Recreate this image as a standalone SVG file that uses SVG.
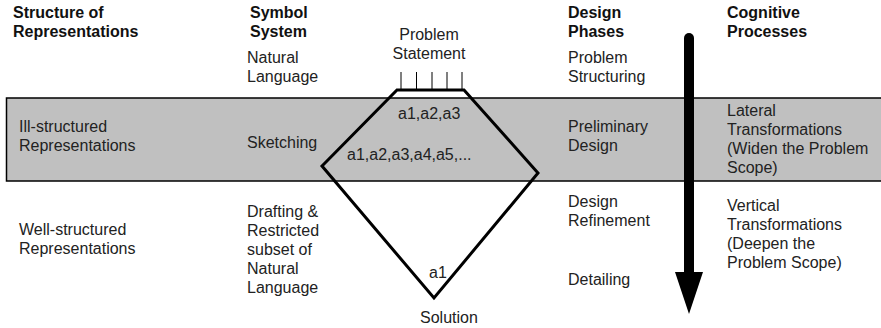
<svg xmlns="http://www.w3.org/2000/svg" width="881" height="328" viewBox="0 0 881 328">
  <style>
    text { font-family: "Liberation Sans", Arial, sans-serif; font-size: 16px; fill: #222; }
    .hd { font-weight: bold; fill: #111; }
    .mid { text-anchor: middle; }
    .edge { stroke: #000; fill: none; }
  </style>
  <rect width="881" height="328" fill="#fff"/>

  <!-- shaded band for the ill-structured row -->
  <g id="band">
    <rect x="6" y="98" width="880" height="83" fill="#c0c0c0"/>
    <path class="edge" stroke-width="1.5" d="M886,98 H6.5 V181 H886"/>
  </g>

  <!-- column headers -->
  <g id="headers">
    <text class="hd" x="13" y="18">Structure of</text>
    <text class="hd" x="13" y="37">Representations</text>
    <text class="hd" x="250" y="18">Symbol</text>
    <text class="hd" x="250" y="37">System</text>
    <text class="hd" x="568" y="18">Design</text>
    <text class="hd" x="568" y="37">Phases</text>
    <text class="hd" x="727" y="18">Cognitive</text>
    <text class="hd" x="727" y="37">Processes</text>
  </g>

  <!-- structure of representations column -->
  <g id="structure">
    <text x="19" y="132">Ill-structured</text>
    <text x="19" y="151">Representations</text>
    <text x="19" y="235">Well-structured</text>
    <text x="19" y="254">Representations</text>
  </g>

  <!-- symbol system column -->
  <g id="symbols">
    <text x="247" y="63">Natural</text>
    <text x="247" y="82">Language</text>
    <text x="247" y="148">Sketching</text>
    <text x="247" y="217">Drafting &amp;</text>
    <text x="247" y="236">Restricted</text>
    <text x="247" y="255">subset of</text>
    <text x="247" y="274">Natural</text>
    <text x="247" y="293">Language</text>
  </g>

  <!-- problem-to-solution funnel -->
  <g id="funnel">
    <text class="mid" x="429" y="40">Problem</text>
    <text class="mid" x="429" y="59">Statement</text>
    <g stroke="#000" stroke-width="1">
      <line x1="401" y1="72" x2="401" y2="90"/>
      <line x1="416.5" y1="72" x2="416.5" y2="90"/>
      <line x1="432" y1="72" x2="432" y2="90"/>
      <line x1="447" y1="72" x2="447" y2="90"/>
      <line x1="462" y1="72" x2="462" y2="90"/>
    </g>
    <path class="edge" stroke-width="3" stroke-linejoin="miter" d="M397,90 L464,90 L538,173 L434,298 L322,166 Z"/>
    <text x="398" y="119">a1,a2,a3</text>
    <text x="347" y="160">a1,a2,a3,a4,a5,...</text>
    <text x="429" y="278">a1</text>
    <text x="420" y="323">Solution</text>
  </g>

  <!-- design phases column -->
  <g id="phases">
    <text x="568" y="63">Problem</text>
    <text x="568" y="82">Structuring</text>
    <text x="568" y="132">Preliminary</text>
    <text x="568" y="151">Design</text>
    <text x="568" y="207">Design</text>
    <text x="568" y="226">Refinement</text>
    <text x="568" y="285">Detailing</text>
  </g>

  <!-- downward progression arrow -->
  <g id="connectors">
    <line x1="689" y1="38" x2="689" y2="274" stroke="#000" stroke-width="10" stroke-linecap="round"/>
    <polygon points="675,272 703,272 689,314" fill="#000"/>
  </g>

  <!-- cognitive processes column -->
  <g id="processes">
    <text x="727" y="116">Lateral</text>
    <text x="727" y="135">Transformations</text>
    <text x="727" y="154">(Widen the Problem</text>
    <text x="727" y="173">Scope)</text>
    <text x="727" y="211">Vertical</text>
    <text x="727" y="230">Transformations</text>
    <text x="727" y="249">(Deepen the</text>
    <text x="727" y="268">Problem Scope)</text>
  </g>
</svg>
